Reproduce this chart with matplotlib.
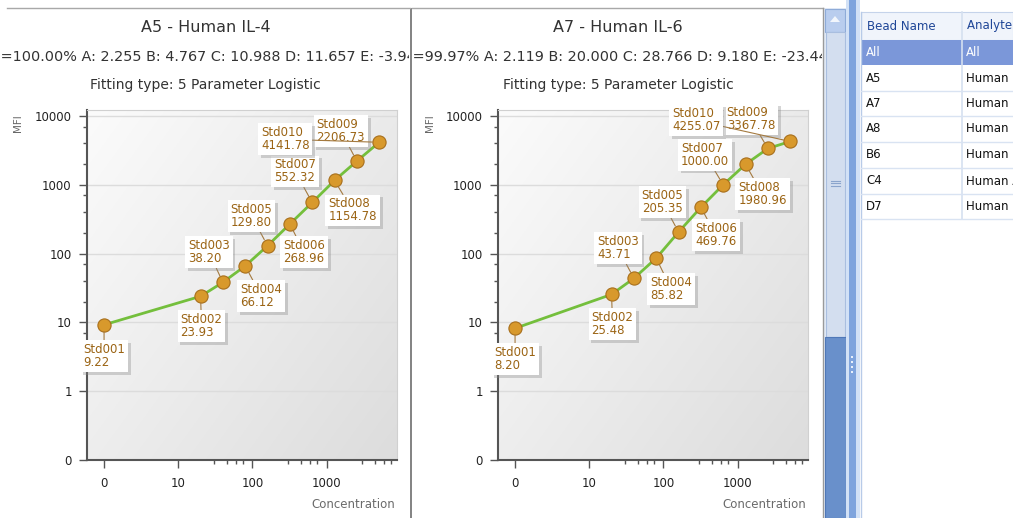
import numpy as np
import matplotlib.pyplot as plt
from matplotlib.patches import Rectangle, Polygon
import matplotlib.patheffects as pe

W, H = 1013, 518

# ---- data ----
std_names = ["Std001", "Std002", "Std003", "Std004", "Std005",
             "Std006", "Std007", "Std008", "Std009", "Std010"]
concentration = [0, 20, 40, 80, 160, 320, 640, 1280, 2560, 5120]
mfi_il4 = [9.22, 23.93, 38.20, 66.12, 129.80, 268.96, 552.32, 1154.78, 2206.73, 4141.78]
mfi_il6 = [8.20, 25.48, 43.71, 85.82, 205.35, 469.76, 1000.00, 1980.96, 3367.78, 4255.07]

titles = ["A5 - Human IL-4", "A7 - Human IL-6"]
fit_params = ["R²=100.00% A: 2.255 B: 4.767 C: 10.988 D: 11.657 E: -3.94",
              "R²=99.97% A: 2.119 B: 20.000 C: 28.766 D: 9.180 E: -23.44"]
fit_type = "Fitting type: 5 Parameter Logistic"
xtick_vals = [0, 10, 100, 1000]
ytick_vals = [0, 1, 10, 100, 1000, 10000]

bead_names = ["All", "A5", "A7", "A8", "B6", "C4", "D7"]
analytes = ["All", "Human IL-4", "Human IL-6", "Human IL-8", "Human IL-10",
            "Human Angiogenin", "Human IP-10"]

# label box offsets (pixels) from each point, per panel
label_offsets = [
    [(0, -31), (1, -30), (-14, 30), (16, -30), (-16, 30),
     (14, -28), (-17, 31), (18, -30), (-16, 30), (-94, 3)],
    [(0, -31), (1, -30), (-16, 30), (15, -31), (-16, 30),
     (15, -28), (-18, 30), (17, -30), (-17, 29), (-94, 21)],
]

fig = plt.figure(figsize=(W / 100, H / 100), dpi=100)
fig.patch.set_facecolor("white")

# full-figure layer in pixel coordinates for the window chrome
ui = fig.add_axes([0, 0, 1, 1])
ui.set_xlim(0, W)
ui.set_ylim(H, 0)
ui.axis("off")


def px_rect(l, t, r, b):
    return [l / W, 1 - b / H, (r - l) / W, (b - t) / H]


panel_left = [0, 412]
panel_right = [410, 823]
plot_left = [87, 498]

# panel frames
for pl, pr in zip(panel_left, panel_right):
    ui.plot([pl + 7 if pl == 0 else pl, pr], [8, 8], color="#a8a8a8", lw=1)
ui.add_patch(Rectangle((409.5, 8), 2.5, H, fc="#858585", ec="none"))
ui.plot([823, 823], [8, H], color="#9a9a9a", lw=1)

for i, mfi in enumerate([mfi_il4, mfi_il6]):
    p0, p1 = panel_left[i], panel_right[i]
    cx = (p0 + (p1 - 5)) / 2 + 3
    clip = Rectangle((p0 + 0.5, 8), p1 - p0 - 1.5, H, transform=ui.transData)

    ui.text(cx, 28, titles[i], ha="center", va="center", fontsize=11.5, color="#333333")
    t = ui.text(p0 - 15, 57, fit_params[i], ha="left", va="center", fontsize=10.4,
                color="#333333", clip_on=True)
    t.set_clip_path(clip)
    ui.text(cx, 85, fit_type, ha="center", va="center", fontsize=10, color="#333333")
    ui.text(p0 + 18, 123, "MFI", rotation=90, ha="center", va="center",
            fontsize=7.5, color="#666666")
    ui.text(plot_left[i] + 308, 505, "Concentration", ha="right", va="center",
            fontsize=8.5, color="#6a6a6a")

    rect = px_rect(plot_left[i], 110, plot_left[i] + 310, 460)

    # gradient background of the plot area
    bg = fig.add_axes(rect)
    gx, gy = np.meshgrid(np.linspace(0, 1, 200), np.linspace(0, 1, 200))
    shade = 0.985 - 0.12 * (0.55 * gx + 0.45 * gy)
    bg.imshow(np.dstack([shade] * 3), extent=[0, 1, 0, 1], aspect="auto")
    bg.axis("off")

    ax = fig.add_axes(rect)
    ax.set_facecolor("none")
    ax.set_xscale("symlog", linthresh=10, linscale=0.9)
    ax.set_yscale("symlog", linthresh=1, linscale=0.9)

    ax.plot(concentration, mfi, color="#74bf3c", lw=2, zorder=3)
    ax.plot(concentration, mfi, "o", ms=9.5, mfc="#d8992c", mec="#a86f1c",
            mew=0.8, zorder=4)

    for name, xv, yv, (dx, dy) in zip(std_names, concentration, mfi, label_offsets[i]):
        ann = ax.annotate(f"{name}\n{yv:.2f}", xy=(xv, yv), xytext=(dx, dy),
                          textcoords="offset pixels", ha="center", va="center",
                          multialignment="left", fontsize=8.5, color="#9b6414",
                          linespacing=1.0, zorder=5,
                          bbox=dict(boxstyle="square,pad=0.25", fc="white", ec="none"),
                          arrowprops=dict(arrowstyle="-", color="#a47a40", lw=0.8,
                                          shrinkA=0, shrinkB=5))
        ann.get_bbox_patch().set_path_effects(
            [pe.SimplePatchShadow(offset=(2, -2), shadow_rgbFace="#888888", alpha=0.35),
             pe.Normal()])

    ax.set_xlim(-2.3, 8900)
    ax.set_ylim(0, 12200)
    ax.set_xticks(xtick_vals)
    ax.set_xticklabels([str(v) for v in xtick_vals])
    ax.set_yticks(ytick_vals)
    ax.set_yticklabels([str(v) for v in ytick_vals])
    ax.set_xticks([s * 10 ** k for k in (1, 2, 3) for s in (3, 4.5, 6, 7.5)
                   if s * 10 ** k < 8900], minor=True)
    ax.set_yticks([s * 10 ** k for k in (0, 1, 2, 3) for s in (2, 4, 7)], minor=True)
    ax.set_xticklabels([], minor=True)
    ax.set_yticklabels([], minor=True)

    ax.tick_params(which="major", length=6, width=1, color="#555555",
                   labelsize=8.5, labelcolor="#222222")
    ax.tick_params(which="minor", length=3, width=1, color="#555555")
    ax.tick_params(axis="x", pad=6)
    ax.tick_params(axis="y", pad=5)
    ax.yaxis.grid(True, which="major", color="#dcdcdc", lw=1)
    ax.set_axisbelow(True)
    for side in ("left", "bottom"):
        ax.spines[side].set_color("#555555")
        ax.spines[side].set_linewidth(1.5)
    for side in ("top", "right"):
        ax.spines[side].set_color("#d0d0d0")
        ax.spines[side].set_linewidth(0.8)

# ---- scrollbar ----
ui.add_patch(Rectangle((824, 8), 22, H, fc="#e3ebf7", ec="none"))
ui.add_patch(Rectangle((825, 9), 20, 23, fc="#b9cdee", ec="#8eabd8", lw=0.8))
ui.add_patch(Polygon([(830, 22), (840, 22), (835, 16)], closed=True, fc="#f2f6fc", ec="none"))
ui.add_patch(Rectangle((826, 32), 19, 305, fc="#d3deef", ec="#a9bedf", lw=0.8))
for gy_ in (180.5, 183, 185.5):
    ui.plot([831, 840], [gy_, gy_], color="#8aa4cc", lw=0.8)
ui.add_patch(Rectangle((825, 337), 21, H - 337, fc="#6990cb", ec="#4f78b8", lw=0.8))

# ---- splitter ----
ui.add_patch(Rectangle((846, 0), 14, H, fc="#d2e1f6", ec="none"))
ui.add_patch(Rectangle((849, 0), 7, H, fc="#7fa4dd", ec="none"))
for dy_ in (356, 361, 366, 371):
    ui.add_patch(Rectangle((851, dy_), 2, 2, fc="#e8f0fb", ec="none"))

# ---- table ----
ui.add_patch(Rectangle((860, 8), W - 860, H, fc="white", ec="none"))
ui.plot([861, 861], [12, H], color="#b8cbe8", lw=1)
ui.add_patch(Rectangle((861, 12), W - 861, 28, fc="#f0f4fb", ec="#c5d3ea", lw=0.8))
ui.plot([962, 962], [12, 219], color="#d5e0f0", lw=1.2)
ui.text(867, 26, "Bead Name", ha="left", va="center", fontsize=8.5, color="#1f4697")
ui.text(967, 26, "Analyte Name", ha="left", va="center", fontsize=8.5, color="#1f4697")

row_tops = [40, 65, 91, 116, 142, 168, 194, 219]
for k, (bead, ana) in enumerate(zip(bead_names, analytes)):
    top, bot = row_tops[k], row_tops[k + 1]
    if k == 0:
        ui.add_patch(Rectangle((861, top), W - 861, bot - top, fc="#7b97d9", ec="none"))
        col = "white"
    else:
        ui.plot([861, W], [bot, bot], color="#d9e3f2", lw=1)
        col = "#111111"
    ym = (top + bot) / 2
    ui.text(866, ym, bead, ha="left", va="center", fontsize=8.5, color=col)
    ui.text(966, ym, ana, ha="left", va="center", fontsize=8.5, color=col)

fig.savefig("out.png", dpi=100, facecolor="white")
